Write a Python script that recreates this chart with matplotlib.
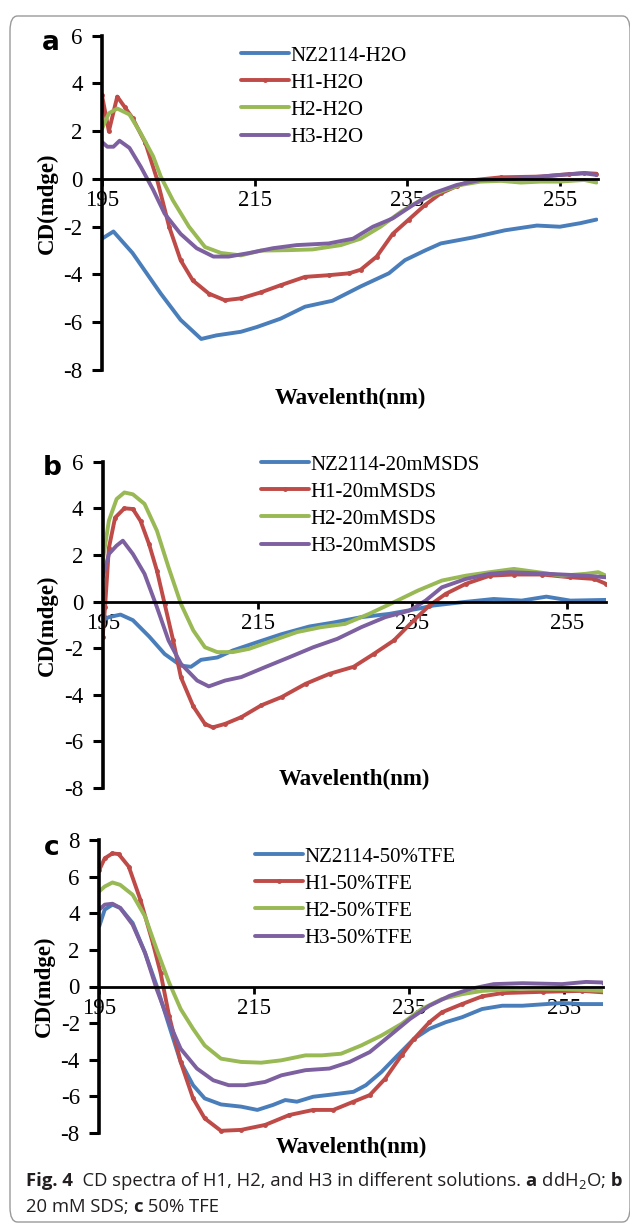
import matplotlib
matplotlib.use('Agg')
import matplotlib.pyplot as plt
from matplotlib.patches import FancyBboxPatch

plt.rcParams['axes.unicode_minus'] = False
plt.rcParams['mathtext.default'] = 'regular'

W, H = 630, 1227
SERIF = 'Liberation Serif'
CAP = 'Open Sans'
colors = ['#4A7EBB', '#BE4B48', '#98B954', '#7D60A0']

# ---- panel a: ddH2O ----
labels_a = ['NZ2114-H2O', 'H1-H2O', 'H2-H2O', 'H3-H2O']
wl_a_nz = [195, 196.5, 199, 202.7, 205.3, 208, 210, 213.2, 215.3, 218.4, 221.6, 225.2, 228.9, 232.6, 234.7,
           237.3, 239.4, 243.6, 247.8, 252, 255, 257.7, 259.8]
cd_a_nz = [-2.5, -2.2, -3.1, -4.8, -5.9, -6.7, -6.55, -6.4, -6.2, -5.85, -5.35, -5.1, -4.5, -3.95, -3.4,
           -3.0, -2.7, -2.45, -2.15, -1.95, -2.0, -1.85, -1.7]
wl_a_h1 = [195, 195.9, 197, 198, 199, 200.7, 202.2, 203.8, 205.3, 206.9, 209, 211.1, 213.2, 215.8, 218.4,
           221.6, 224.7, 227.4, 228.9, 231, 233.1, 235.2, 237.3, 239.4, 241.5, 243.6, 247.3, 252.5, 256.2,
           258.2, 259.8]
cd_a_h1 = [3.5, 2.0, 3.45, 3.0, 2.55, 1.5, 0.0, -2.0, -3.4, -4.25, -4.8, -5.08, -5.0, -4.75, -4.45,
           -4.1, -4.03, -3.95, -3.8, -3.25, -2.3, -1.7, -1.1, -0.6, -0.3, -0.05, 0.07, 0.1, 0.2,
           0.25, 0.22]
wl_a_h2 = [195, 195.9, 197, 198.6, 200.1, 201.7, 202.7, 204.3, 206.4, 208.5, 210.6, 213.2, 215.8, 219.5,
           222.6, 226.3, 228.9, 231.5, 234.2, 236.8, 239.4, 242, 244.6, 247.3, 249.9, 252.5, 255, 258.2, 259.8]
cd_a_h2 = [2.1, 2.75, 2.95, 2.7, 1.9, 0.95, 0.1, -0.9, -2.0, -2.85, -3.1, -3.2, -3.0, -2.98,
           -2.95, -2.77, -2.5, -2.0, -1.37, -0.88, -0.53, -0.25, -0.11, -0.08, -0.15, -0.11, -0.11, -0.04, -0.15]
wl_a_h3 = [195, 195.7, 196.5, 197.3, 198.6, 200.1, 201.7, 203.2, 205.3, 207.4, 209.6, 211.6, 214.3, 217.4,
           220.5, 224.7, 227.9, 230.5, 233.1, 235.7, 238.4, 241.5, 244.6, 249.9, 255, 258.2, 259.8]
cd_a_h3 = [1.55, 1.35, 1.35, 1.6, 1.3, 0.5, -0.45, -1.45, -2.3, -2.9, -3.25, -3.25, -3.1, -2.9,
           -2.77, -2.7, -2.5, -2.0, -1.65, -1.1, -0.6, -0.25, -0.04, 0.03, 0.17, 0.24, 0.17]

# ---- panel b: 20 mM SDS ----
labels_b = ['NZ2114-20mMSDS', 'H1-20mMSDS', 'H2-20mMSDS', 'H3-20mMSDS']
wl_b_nz = [195, 195.8, 197.3, 198.9, 201, 203, 205.1, 206.4, 207.7, 209.8, 211.8, 214.9, 218.1, 221.7,
           224.8, 228.4, 232, 235.7, 237.7, 241.4, 245.5, 249.1, 252.3, 255.4, 260]
cd_b_nz = [-0.8, -0.67, -0.56, -0.8, -1.5, -2.25, -2.75, -2.8, -2.5, -2.4, -2.1, -1.75, -1.4, -1.07,
           -0.9, -0.67, -0.53, -0.31, -0.17, -0.03, 0.11, 0.04, 0.21, 0.04, 0.07]
wl_b_h1 = [195, 195.3, 195.8, 196.6, 197.8, 198.9, 199.9, 201, 202, 203, 204.1, 205.1, 206.7, 208.2,
           209.2, 210.8, 212.9, 215.5, 218.1, 221.2, 224.3, 227.4, 230, 232.6, 235.2, 237.2, 239.3, 241.9,
           245, 248.1, 251.7, 255.4, 258.5, 260]
cd_b_h1 = [-1.5, -0.25, 2.3, 3.6, 4.0, 3.97, 3.45, 2.45, 1.33, -0.1, -1.67, -3.25, -4.5, -5.25,
           -5.4, -5.25, -4.96, -4.45, -4.1, -3.53, -3.1, -2.8, -2.25, -1.67, -0.8, -0.17, 0.33, 0.76,
           1.11, 1.16, 1.16, 1.04, 0.97, 0.76]
wl_b_h2 = [195, 195.8, 196.8, 197.8, 198.9, 200.4, 202, 203.5, 205.1, 206.7, 208.2, 209.8, 211.8, 213.9,
           217, 220.1, 223.2, 226.3, 229.4, 232.6, 235.7, 238.8, 241.9, 245, 248.1, 251.2, 254.3, 257.4,
           259, 260]
cd_b_h2 = [1.75, 3.47, 4.4, 4.68, 4.6, 4.19, 3.04, 1.47, -0.1, -1.24, -1.96, -2.17, -2.17, -2.03,
           -1.67, -1.31, -1.1, -0.96, -0.53, -0.03, 0.47, 0.9, 1.11, 1.26, 1.4, 1.26, 1.11, 1.19,
           1.26, 1.11]
wl_b_h3 = [195, 195.8, 196.8, 197.6, 198.9, 200.4, 202, 203.5, 205.1, 207.2, 208.7, 210.8, 212.9, 216,
           219.1, 222.2, 225.3, 228.4, 231.5, 234.6, 236.7, 238.8, 241.9, 245, 247.6, 251.2, 254.3, 257.4, 260]
cd_b_h3 = [1.05, 2.04, 2.4, 2.61, 2.04, 1.19, -0.24, -1.67, -2.67, -3.39, -3.64, -3.39, -3.24, -2.81,
           -2.39, -1.96, -1.6, -1.1, -0.67, -0.39, 0.04, 0.61, 0.97, 1.19, 1.26, 1.21, 1.16, 1.11, 1.04]

# ---- panel c: 50% TFE ----
labels_c = ['NZ2114-50%TFE', 'H1-50%TFE', 'H2-50%TFE', 'H3-50%TFE']
wl_c_nz = [195, 195.7, 196.7, 197.7, 199.3, 200.9, 202.4, 204, 205.5, 207.1, 208.6, 210.7, 213.3, 215.4,
           217.4, 219, 220.5, 222.6, 225.2, 227.8, 229.4, 231.4, 233.5, 235.6, 237.6, 239.7, 241.8, 244.4,
           247, 249.6, 254.7, 257.3, 260.4]
cd_c_nz = [3.3, 4.2, 4.47, 4.29, 3.47, 1.84, 0.04, -2.13, -4.12, -5.39, -6.11, -6.44, -6.56, -6.74,
           -6.47, -6.2, -6.29, -6.02, -5.89, -5.75, -5.39, -4.67, -3.76, -2.86, -2.31, -1.95, -1.68, -1.23,
           -1.05, -1.05, -0.9, -0.96, -0.96]
wl_c_h1 = [195, 195.7, 196.7, 197.5, 198.8, 200.3, 201.9, 202.9, 204, 205.5, 207.1, 208.6, 210.7, 213.3,
           216.4, 219.5, 222.6, 225.2, 227.8, 229.9, 231.9, 234, 235.6, 237.6, 239.2, 241.8, 244.4, 247,
           252.2, 257.3, 260.4]
cd_c_h1 = [6.37, 7.0, 7.27, 7.23, 6.55, 4.74, 2.39, 0.76, -1.59, -4.12, -6.11, -7.2, -7.88, -7.83,
           -7.56, -7.02, -6.74, -6.74, -6.29, -5.93, -5.03, -3.76, -2.86, -1.95, -1.41, -0.96, -0.54, -0.36,
           -0.29, -0.24, -0.33]
wl_c_h2 = [195, 195.7, 196.7, 197.7, 199.3, 200.9, 202.4, 204, 205.5, 207.1, 208.6, 210.7, 213.3, 215.9,
           218.5, 221.6, 223.7, 226.2, 228.8, 231.4, 234, 236.6, 239.2, 241.8, 244.4, 249.6, 254.7, 260.4]
cd_c_h2 = [5.2, 5.46, 5.68, 5.55, 5.01, 3.83, 2.03, 0.22, -1.23, -2.31, -3.22, -3.94, -4.12, -4.16,
           -4.03, -3.76, -3.76, -3.67, -3.22, -2.68, -2.04, -1.23, -0.69, -0.42, -0.24, -0.11, -0.14, -0.24]
wl_c_h3 = [195, 195.7, 196.7, 197.7, 199.3, 200.9, 202.4, 204, 205.5, 207.6, 209.7, 211.7, 213.8, 216.4,
           218.5, 221.6, 224.7, 227.3, 229.9, 232.5, 235.1, 237.6, 240.2, 242.8, 245.9, 249.6, 254.7, 257.8,
           259.9, 260.4]
cd_c_h3 = [4.2, 4.47, 4.52, 4.29, 3.38, 1.84, -0.14, -1.95, -3.4, -4.48, -5.12, -5.39, -5.39, -5.21,
           -4.85, -4.57, -4.48, -4.12, -3.58, -2.68, -1.77, -1.05, -0.51, -0.14, 0.13, 0.18, 0.13, 0.25,
           0.22, 0.04]

xticks = [195, 215, 235, 255]

fig = plt.figure(figsize=(W / 100, H / 100), dpi=100)

# rounded frame around the whole figure
frame = FancyBboxPatch((10 / W, 1 - 1222 / H), 620 / W, 1206 / H,
                       boxstyle='round,pad=0,rounding_size=0.012',
                       transform=fig.transFigure, fc='none', ec='#9a9a9a', lw=1.0)
fig.patches.append(frame)


def px_ax(l, r, t, b):
    return fig.add_axes([l / W, 1 - b / H, (r - l) / W, (b - t) / H])


def draw_panel(ax, series, labels, ylim, yticks, leg_xy, xlab_y, tag, tag_xy):
    for (wl, cd), lab, col in zip(series, labels, colors):
        kw = dict(marker='o', markersize=2.5, markevery=1) if col == colors[1] else {}
        ax.plot(wl, cd, color=col, lw=2.8, label=lab, solid_capstyle='round', **kw)
    ax.set_xlim(195, 260)
    ax.set_ylim(*ylim)
    ax.set_xticks(xticks)
    ax.set_yticks(yticks)
    for s in ['top', 'right']:
        ax.spines[s].set_visible(False)
    ax.spines['left'].set_linewidth(2.6)
    ax.spines['bottom'].set_position(('data', 0))
    ax.spines['bottom'].set_linewidth(2.0)
    ax.tick_params(axis='y', direction='out', length=7, width=2.2, pad=7, labelsize=16.5)
    ax.tick_params(axis='x', direction='out', length=5, width=2.0, pad=3, labelsize=16.5)
    for t in ax.get_xticklabels() + ax.get_yticklabels():
        t.set_fontfamily(SERIF)
    ax.set_ylabel('CD(mdge)', fontfamily=SERIF, fontweight='bold', fontsize=16.5)
    ax.yaxis.label.set_va('center')
    ax.yaxis.set_label_coords(-0.11, 0.5)
    ax.set_xlabel('Wavelenth(nm)', fontfamily=SERIF, fontweight='bold', fontsize=16.5)
    ax.xaxis.label.set_va('center')
    ax.xaxis.set_label_coords(0.5, xlab_y)
    ax.patch.set_visible(False)
    ax.legend(loc='upper left', bbox_to_anchor=(leg_xy[0] / W, 1 - leg_xy[1] / H),
              bbox_transform=fig.transFigure, frameon=False,
              prop={'family': SERIF, 'size': 15}, handlelength=2.3, handletextpad=0.05,
              labelspacing=0.36, borderpad=0, borderaxespad=0)
    fig.text(tag_xy[0] / W, 1 - tag_xy[1] / H, tag, fontfamily='DejaVu Sans', fontweight='bold',
             fontsize=19, ha='center', va='center')


ax_a = px_ax(102, 598, 35.7, 370)
draw_panel(ax_a, [(wl_a_nz, cd_a_nz), (wl_a_h1, cd_a_h1), (wl_a_h2, cd_a_h2), (wl_a_h3, cd_a_h3)],
           labels_a, (-8, 6), range(-8, 7, 2), (241, 46), -0.084, 'a', (51, 43))

ax_b = px_ax(102.7, 606, 461.7, 788)
draw_panel(ax_b, [(wl_b_nz, cd_b_nz), (wl_b_h1, cd_b_h1), (wl_b_h2, cd_b_h2), (wl_b_h3, cd_b_h3)],
           labels_b, (-8, 6), range(-8, 7, 2), (261, 455), 0.025, 'b', (52, 468))

ax_c = px_ax(99.3, 603, 840, 1133)
draw_panel(ax_c, [(wl_c_nz, cd_c_nz), (wl_c_h1, cd_c_h1), (wl_c_h2, cd_c_h2), (wl_c_h3, cd_c_h3)],
           labels_c, (-8, 8), range(-8, 9, 2), (255, 847), -0.051, 'c', (52, 848))

# caption with mixed bold / regular runs
renderer = fig.canvas.get_renderer()


def put_runs(x, y, runs, size=13.3):
    for s, bold in runs:
        t = fig.text(x / W, 1 - y / H, s, fontfamily=CAP, fontsize=size,
                     fontweight='bold' if bold else 'normal', va='baseline', color='#231f20')
        x += t.get_window_extent(renderer=renderer).width


put_runs(26, 1186, [('Fig. 4', True), ('  CD spectra of H1, H2, and H3 in different solutions. ', False),
                    ('a', True), (' ddH$_2$O;', False), (' b', True)])
put_runs(26, 1212, [('20 mM SDS; ', False), ('c', True), (' 50% TFE', False)])

fig.savefig('out.png', dpi=100)
